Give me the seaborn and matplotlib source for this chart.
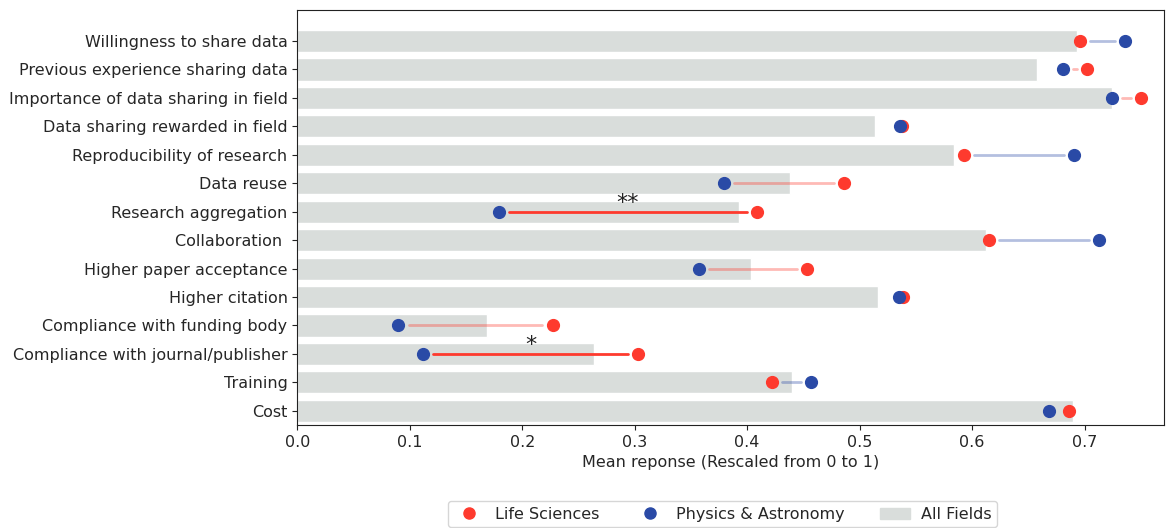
import matplotlib
matplotlib.use("Agg")
import matplotlib.pyplot as plt
from matplotlib.lines import Line2D
from matplotlib.patches import Patch
import seaborn as sns
import pandas as pd

# survey items, top to bottom
items = [
    "Willingness to share data",
    "Previous experience sharing data",
    "Importance of data sharing in field",
    "Data sharing rewarded in field",
    "Reproducibility of research",
    "Data reuse",
    "Research aggregation",
    "Collaboration ",
    "Higher paper acceptance",
    "Higher citation",
    "Compliance with funding body",
    "Compliance with journal/publisher",
    "Training",
    "Cost",
]
all_fields = [0.693, 0.658, 0.724, 0.514, 0.584, 0.438, 0.393, 0.612,
              0.403, 0.516, 0.169, 0.264, 0.440, 0.690]
life_sci = [0.696, 0.702, 0.750, 0.538, 0.593, 0.486, 0.409, 0.615,
            0.453, 0.539, 0.227, 0.303, 0.422, 0.686]
physics = [0.736, 0.681, 0.724, 0.536, 0.691, 0.379, 0.179, 0.713,
           0.357, 0.535, 0.090, 0.112, 0.457, 0.668]
signif = ["", "", "", "", "", "", "**", "", "", "", "", "*", "", ""]

RED = "#fe3a2e"
BLUE = "#2a4aa6"
GRAY = "#d9dddb"

df = pd.DataFrame({"item": items, "all": all_fields,
                   "life": life_sci, "phys": physics, "sig": signif})

sns.set_style("ticks")
plt.rcParams["font.family"] = ["DejaVu Sans"]

fig = plt.figure(figsize=(11.75, 5.28), dpi=100)
ax = fig.add_axes([0.253, 0.195, 0.738, 0.786])

sns.barplot(data=df, x="all", y="item", orient="h", color=GRAY,
            saturation=1, width=0.78, ax=ax)

# connecting lines between the two groups
gap = 0.009
for i, row in df.iterrows():
    lo, hi = sorted([row["life"], row["phys"]])
    if hi - lo <= 2 * gap:
        continue
    if row["sig"]:
        ax.plot([lo + gap, hi - gap], [i, i], color=RED, lw=2, zorder=3)
        ax.text((lo + hi) / 2, i + 0.05, row["sig"], ha="center", va="bottom",
                fontsize=16, color="#222222")
    else:
        c = RED if row["life"] > row["phys"] else BLUE
        ax.plot([lo + gap, hi - gap], [i, i], color=c, lw=2, alpha=0.35, zorder=3)

ax.scatter(df["life"], range(len(df)), s=72, color=RED, zorder=4)
ax.scatter(df["phys"], range(len(df)), s=72, color=BLUE, zorder=5)

ax.set_xlim(0, 0.771)
ax.set_ylim(13.5, -1.09)
ax.set_xticks([0, 0.1, 0.2, 0.3, 0.4, 0.5, 0.6, 0.7])
ax.set_xlabel("Mean reponse (Rescaled from 0 to 1)", fontsize=11.5)
ax.set_ylabel("")
ax.tick_params(axis="both", labelsize=11.5, color="#222222")
for s in ax.spines.values():
    s.set_color("#222222")

handles = [
    Line2D([], [], marker="o", ls="", color=RED, markersize=8),
    Line2D([], [], marker="o", ls="", color=BLUE, markersize=8),
    Patch(color=GRAY),
]
fig.legend(handles, ["Life Sciences", "Physics & Astronomy", "All Fields"],
           loc="upper center", bbox_to_anchor=(0.615, 0.066), ncol=3,
           fontsize=11.5, frameon=True, columnspacing=2.2, handlelength=1.9,
           handletextpad=0.7, borderpad=0.35)

fig.savefig("out.png", dpi=100)
